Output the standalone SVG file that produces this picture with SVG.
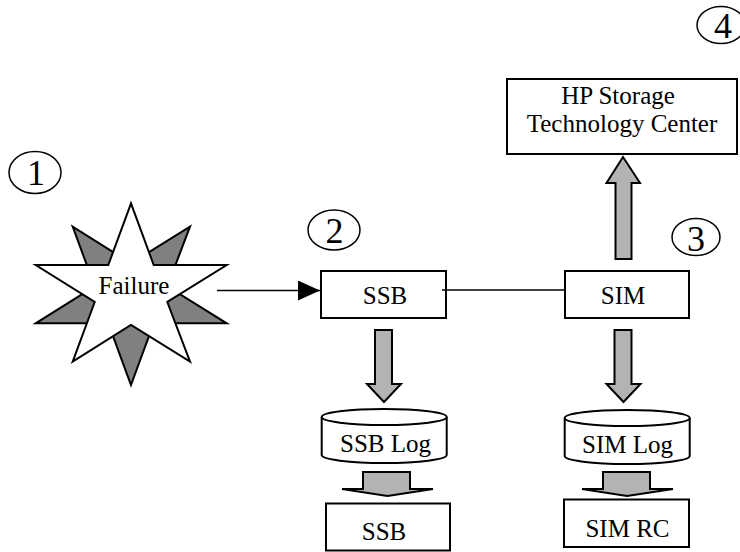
<svg xmlns="http://www.w3.org/2000/svg" width="740" height="552" viewBox="0 0 740 552">
<defs>
<style>
.box{fill:#fff;stroke:#000;stroke-width:2}
.fat{fill:#b3b3b3;stroke:#000;stroke-width:2;stroke-linejoin:miter}
.t{font-family:"Liberation Serif","Times New Roman",serif;font-size:25px;fill:#000;text-anchor:middle}
.num{font-family:"Liberation Serif","Times New Roman",serif;font-size:36px;fill:#000;text-anchor:middle}
.circ{fill:none;stroke:#000;stroke-width:1.5}
.ln{stroke:#000;stroke-width:1.5;fill:none}
</style>
<marker id="ah" markerWidth="22" markerHeight="20" refX="22" refY="10" orient="auto" markerUnits="userSpaceOnUse">
<path d="M0,0 L22,10 L0,20 Z" fill="#000"/>
</marker>
</defs>

<g id="n1-label">
<ellipse class="circ" cx="35" cy="172.5" rx="26" ry="21"/>
<text class="num" x="36" y="185">1</text>
</g>

<g id="failure">
<polygon points="131,385 153.7,323.3 226.7,323.3 167.3,286.3 190,226.7 131,263.3 72.7,226.7 94.7,286.3 35.7,323.3 108.3,323.3" fill="#808080" stroke="#000" stroke-width="2"/>
<polygon points="131,203.3 153.7,265 226.7,265 167.3,302 190,361.7 131,325 72.7,361.7 94.7,302 35.7,265 108.3,265" fill="#fff" stroke="#000" stroke-width="2"/>
<text class="t" x="134" y="294">Failure</text>
</g>

<g id="n2-label">
<ellipse class="circ" cx="334" cy="230" rx="26" ry="20"/>
<text class="num" x="334.5" y="242.5">2</text>
</g>

<g id="n3-label">
<ellipse class="circ" cx="696" cy="237" rx="24" ry="18.5"/>
<text class="num" x="696" y="251">3</text>
</g>

<g id="n4-label">
<ellipse class="circ" cx="721" cy="25" rx="24" ry="18.5"/>
<text class="num" x="723" y="38">4</text>
</g>

<g id="hp">
<rect class="box" x="507" y="79" width="230" height="75"/>
<text class="t" x="618" y="104">HP Storage</text>
<text class="t" x="622" y="132">Technology Center</text>
</g>

<g id="ssb">
<rect class="box" x="321" y="271" width="125" height="47"/>
<text class="t" x="385" y="304">SSB</text>
</g>

<g id="sim">
<rect class="box" x="565" y="271" width="124" height="47"/>
<text class="t" x="623" y="304">SIM</text>
</g>

<g id="ssb-log">
<path class="box" d="M321.7,417 L321.7,455 A62.5,8 0 0 0 446.7,455 L446.7,417"/>
<ellipse class="box" cx="384.2" cy="417" rx="62.5" ry="8"/>
<text class="t" x="385.5" y="452">SSB Log</text>
</g>

<g id="sim-log">
<path class="box" d="M564.7,418 L564.7,456 A62.5,8 0 0 0 689.7,456 L689.7,418"/>
<ellipse class="box" cx="627.2" cy="418" rx="62.5" ry="8"/>
<text class="t" x="627.5" y="453">SIM Log</text>
</g>

<g id="ssb-out">
<rect class="box" x="326" y="503.5" width="124" height="47"/>
<text class="t" x="384" y="540">SSB</text>
</g>

<g id="sim-rc">
<rect class="box" x="564" y="499.5" width="125" height="47.5"/>
<text class="t" x="627.5" y="537">SIM RC</text>
</g>

<g id="connectors">
<line class="ln" x1="217" y1="290.5" x2="320" y2="290.5" marker-end="url(#ah)"/>
<line class="ln" x1="442" y1="290" x2="565" y2="290"/>
<polygon class="fat" points="615.5,259 615.5,183 606.5,183 623,157 640,183 631.5,183 631.5,259"/>
<polygon class="fat" points="375,330 392,330 392,384 401,384 384,402 367,384 375,384"/>
<polygon class="fat" points="614.5,330 631.5,330 631.5,384 640.5,384 623.5,402 606.5,384 614.5,384"/>
<polygon class="fat" points="363,472 410,472 410,489 433,489 387.5,496 342,489 363,489"/>
<polygon class="fat" points="603,472 650,472 650,489 673,489 627,496 582,489 603,489"/>
</g>
</svg>
